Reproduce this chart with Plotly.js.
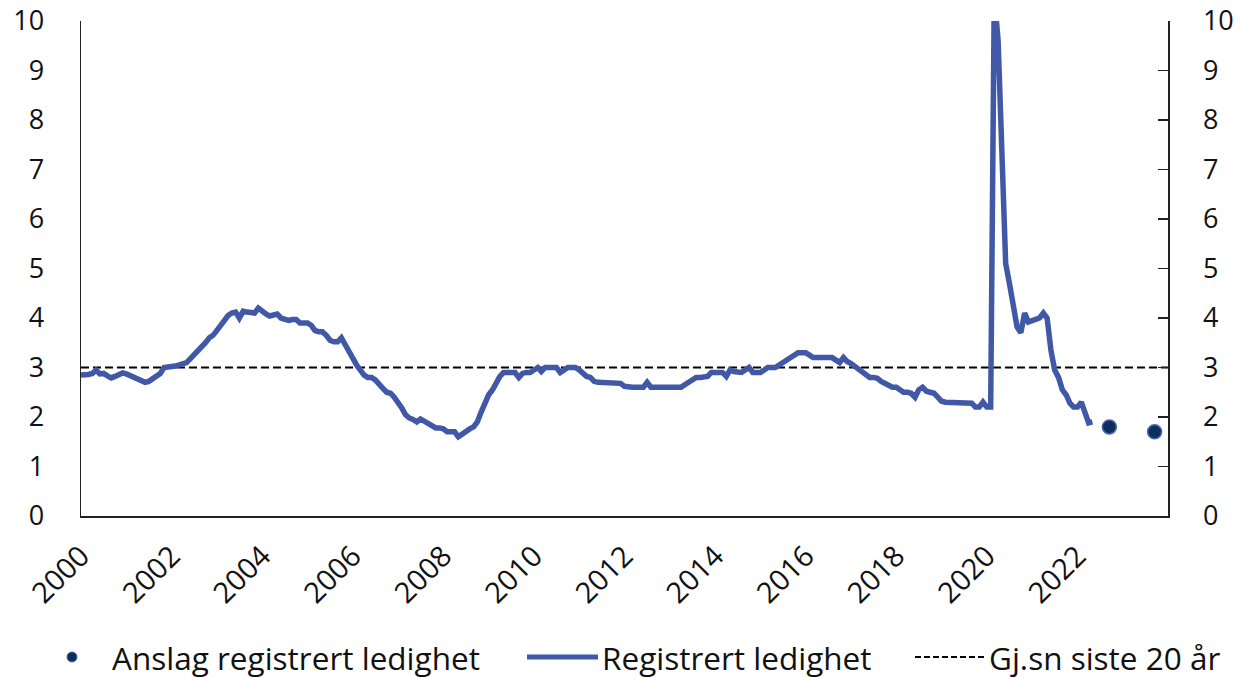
<!DOCTYPE html>
<html>
<head>
<meta charset="utf-8">
<script src="https://cdn.plot.ly/plotly-3.0.1.min.js"></script>
<style>html,body{margin:0;padding:0;background:#fff;}#chart{width:1242px;height:678px;}</style>
</head>
<body>
<div id="chart"></div>
<script>
// Registrert ledighet, monthly values (percent), Jan..Dec per year
const y2000 = [2.85, 2.85, 2.86, 2.88, 2.95, 2.87, 2.88, 2.83, 2.79, 2.82, 2.85, 2.89];
const y2001 = [2.87, 2.83, 2.79, 2.75, 2.72, 2.70, 2.72, 2.78, 2.84, 2.88, 3.0, 3.02];
const y2002 = [3.02, 3.03, 3.05, 3.08, 3.1, 3.18, 3.25, 3.32, 3.4, 3.5, 3.6, 3.65];
const y2003 = [3.75, 3.85, 3.96, 4.05, 4.1, 4.12, 4.0, 4.14, 4.12, 4.1, 4.1, 4.2];
const y2004 = [4.12, 4.08, 4.04, 4.06, 4.08, 4.0, 3.97, 3.95, 3.97, 3.97, 3.9, 3.9];
const y2005 = [3.9, 3.85, 3.75, 3.72, 3.72, 3.65, 3.55, 3.52, 3.52, 3.6, 3.45, 3.3];
const y2006 = [3.2, 3.05, 2.95, 2.85, 2.8, 2.8, 2.75, 2.65, 2.58, 2.5, 2.48, 2.4];
const y2007 = [2.3, 2.18, 2.05, 1.98, 1.95, 1.9, 1.96, 1.92, 1.88, 1.82, 1.78, 1.78];
const y2008 = [1.76, 1.7, 1.7, 1.7, 1.6, 1.66, 1.72, 1.76, 1.8, 1.9, 2.1, 2.3];
const y2009 = [2.45, 2.55, 2.7, 2.82, 2.9, 2.9, 2.9, 2.9, 2.8, 2.88, 2.9, 2.9];
const y2010 = [2.95, 3.0, 2.92, 3.0, 3.0, 3.0, 3.0, 2.9, 2.95, 3.0, 3.0, 3.0];
const y2011 = [2.95, 2.88, 2.82, 2.8, 2.72, 2.7, 2.7, 2.7, 2.7, 2.7, 2.7, 2.68];
const y2012 = [2.62, 2.6, 2.6, 2.6, 2.6, 2.6, 2.7, 2.6, 2.6, 2.6, 2.6, 2.6];
const y2013 = [2.6, 2.6, 2.6, 2.6, 2.65, 2.7, 2.75, 2.8, 2.8, 2.8, 2.82, 2.9];
const y2014 = [2.9, 2.9, 2.9, 2.82, 2.95, 2.92, 2.9, 2.9, 2.95, 3.0, 2.9, 2.9];
const y2015 = [2.9, 2.95, 3.0, 3.0, 3.0, 3.05, 3.1, 3.15, 3.2, 3.28, 3.3, 3.3];
const y2016 = [3.3, 3.25, 3.2, 3.2, 3.2, 3.2, 3.2, 3.2, 3.15, 3.1, 3.2, 3.12];
const y2017 = [3.08, 3.02, 2.95, 2.9, 2.85, 2.8, 2.8, 2.78, 2.72, 2.68, 2.62, 2.6];
const y2018 = [2.6, 2.55, 2.5, 2.5, 2.48, 2.4, 2.55, 2.6, 2.52, 2.5, 2.48, 2.4];
const y2019 = [2.32, 2.3, 2.3, 2.3, 2.3, 2.3, 2.3, 2.3, 2.28, 2.2, 2.2, 2.3];
const y2020 = [2.2, 2.2, 10.5, 9.6, 7.4, 5.1, 4.7, 4.25, 3.82, 3.7, 4.1, 3.92];
const y2021 = [3.95, 3.97, 4.0, 4.1, 4.0, 3.35, 2.95, 2.8, 2.55, 2.45, 2.28, 2.2];
const y2022 = [2.2, 2.3, 2.08, 1.88, 1.9];

// Anslag registrert ledighet (forecast)
const anslagDates = ['2022-09-15', '2023-09-15'];
const anslagValues = [1.8, 1.7];

// Gj.sn siste 20 år
const snittDates = ['2000-01-01', '2024-01-01'];
const snittValues = [3.0, 3.0];

// Tick labels
const tickYears = ['2000','2002','2004','2006','2008','2010','2012','2014','2016','2018','2020','2022'];
const yTicks = [0,1,2,3,4,5,6,7,8,9,10];

const legendLabels = ['Anslag registrert ledighet', 'Registrert ledighet', 'Gj.sn siste 20 år'];

const years = [y2000,y2001,y2002,y2003,y2004,y2005,y2006,y2007,y2008,y2009,y2010,y2011,
  y2012,y2013,y2014,y2015,y2016,y2017,y2018,y2019,y2020,y2021,y2022];
const regDates = [], regValues = [];
years.forEach((arr, i) => {
  arr.forEach((v, m) => {
    const mm = String(m + 1).padStart(2, '0');
    regDates.push((2000 + i) + '-' + mm + '-01');
    regValues.push(v);
  });
});

const BLUE = '#4158A6';
const NAVY = '#0B2F5B';
const FONT = {family: 'Open Sans, sans-serif', size: 27, color: '#111'};
const XFONT = {family: 'Open Sans, sans-serif', size: 29, color: '#111'};
const LFONT = {family: 'Open Sans, sans-serif', size: 31.5, color: '#111'};

const traces = [
  {x: snittDates, y: snittValues, type: 'scatter', mode: 'lines', name: legendLabels[2],
   line: {color: '#000', width: 2, dash: '8px,4px'}, hoverinfo: 'skip', showlegend: false},
  {x: regDates, y: regValues, type: 'scatter', mode: 'lines', name: legendLabels[1],
   line: {color: BLUE, width: 5.5}, showlegend: false},
  {x: anslagDates, y: anslagValues, type: 'scatter', mode: 'markers', name: legendLabels[0],
   marker: {color: NAVY, size: 14, line: {color: '#4a63b3', width: 1.5}}, showlegend: false},
  {x: snittDates, y: snittValues, yaxis: 'y2', type: 'scatter', mode: 'lines',
   line: {width: 0}, opacity: 0, hoverinfo: 'skip', showlegend: false}
];

const W = 1087, H = 495; // plot area px
const px = v => (v - 81) / W;
const py = v => (516 - v) / H;
const ly = 657;

const layout = {
  width: 1242, height: 678,
  margin: {l: 81, r: 74, t: 21, b: 162, pad: 0},
  paper_bgcolor: '#fff', plot_bgcolor: '#fff',
  font: FONT,
  showlegend: false,
  xaxis: {
    type: 'date', range: ['2000-01-01', '2024-01-01'],
    tickmode: 'array', tickvals: tickYears.map(y => y + '-01-01'), ticktext: tickYears,
    tickangle: -45, ticks: '', showgrid: false, zeroline: false,
    showline: true, linecolor: '#222', linewidth: 1.5,
    ticklabelstandoff: 10, tickfont: XFONT
  },
  yaxis: {
    range: [0, 10], tickmode: 'array', tickvals: yTicks, ticktext: yTicks.map(String),
    ticks: '', showgrid: false, zeroline: false,
    showline: true, linecolor: '#222', linewidth: 1.5,
    ticklabelstandoff: 30, tickfont: FONT
  },
  yaxis2: {
    range: [0, 10], overlaying: 'y', side: 'right', anchor: 'x',
    tickmode: 'array', tickvals: yTicks, ticktext: yTicks.map(String),
    ticks: 'inside', ticklen: 10, tickwidth: 1.5, tickcolor: '#222',
    showgrid: false, zeroline: false,
    showline: true, linecolor: '#222', linewidth: 1.5,
    ticklabelstandoff: 28, tickfont: FONT
  },
  shapes: [
    {type: 'circle', xref: 'paper', yref: 'paper',
     x0: px(67), x1: px(77), y0: py(ly + 5), y1: py(ly - 5),
     fillcolor: NAVY, line: {color: '#4a63b3', width: 1}},
    {type: 'line', xref: 'paper', yref: 'paper',
     x0: px(527), x1: px(598), y0: py(ly), y1: py(ly),
     line: {color: BLUE, width: 5}},
    {type: 'line', xref: 'paper', yref: 'paper',
     x0: px(915), x1: px(985), y0: py(ly), y1: py(ly),
     line: {color: '#000', width: 2, dash: '6px,3px'}}
  ],
  annotations: [
    {text: legendLabels[0], xref: 'paper', yref: 'paper', x: px(110), y: py(ly),
     xanchor: 'left', yanchor: 'middle', showarrow: false, font: LFONT},
    {text: legendLabels[1], xref: 'paper', yref: 'paper', x: px(600), y: py(ly),
     xanchor: 'left', yanchor: 'middle', showarrow: false, font: LFONT},
    {text: legendLabels[2], xref: 'paper', yref: 'paper', x: px(987), y: py(ly),
     xanchor: 'left', yanchor: 'middle', showarrow: false, font: LFONT}
  ]
};

Plotly.newPlot('chart', traces, layout, {staticPlot: true, displayModeBar: false});
</script>
</body>
</html>
